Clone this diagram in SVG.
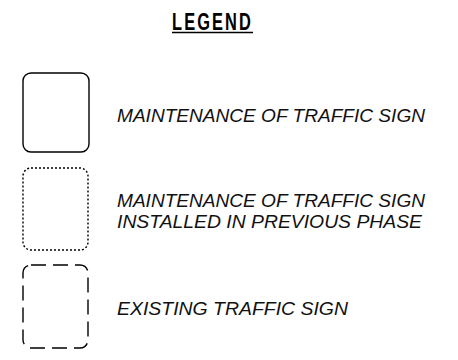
<svg xmlns="http://www.w3.org/2000/svg" width="458" height="360" viewBox="0 0 458 360">
<style>
.box{fill:none;stroke:#000;stroke-width:1.4}
.dot{stroke-dasharray:2 2}
.dash{stroke-dasharray:15 7}
.lbl{font-family:"Liberation Sans",Arial,sans-serif;font-style:italic;font-size:18.5px;fill:#111}
.ttl{font-family:"Liberation Sans",Arial,sans-serif;font-weight:bold;font-size:23px;letter-spacing:3px;fill:#000}
</style>
<rect width="458" height="360" fill="#fff"/>
<g id="title">
<text class="ttl" x="172" y="29.5" textLength="81" lengthAdjust="spacingAndGlyphs">LEGEND</text>
<line x1="172" y1="32.5" x2="253" y2="32.5" stroke="#000" stroke-width="1.6"/>
</g>
<g id="item1">
<rect class="box" x="23" y="73" width="66" height="79" rx="8"/>
<text class="lbl" x="117" y="121.5" textLength="308" lengthAdjust="spacingAndGlyphs">MAINTENANCE OF TRAFFIC SIGN</text>
</g>
<g id="item2">
<rect class="box dot" x="23" y="168" width="65" height="82" rx="8"/>
<text class="lbl" x="117" y="206.5" textLength="308" lengthAdjust="spacingAndGlyphs">MAINTENANCE OF TRAFFIC SIGN</text>
<text class="lbl" x="117" y="227.5" textLength="305" lengthAdjust="spacingAndGlyphs">INSTALLED IN PREVIOUS PHASE</text>
</g>
<g id="item3">
<rect class="box dash" x="23" y="265" width="65" height="83" rx="8"/>
<text class="lbl" x="117" y="315" textLength="231" lengthAdjust="spacingAndGlyphs">EXISTING TRAFFIC SIGN</text>
</g>
<g id="connectors"/>
</svg>
